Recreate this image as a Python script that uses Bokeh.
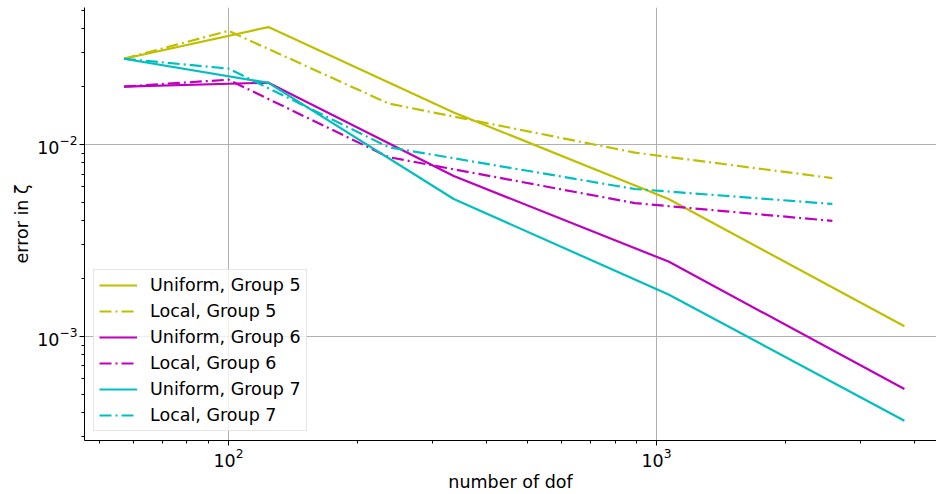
from bokeh.plotting import figure
from bokeh.models import Range1d, FixedTicker, Legend, LegendItem
from bokeh.embed import file_html
from bokeh.resources import INLINE

# ---- data ----
uniform_dof = [57, 124, 336, 1067, 3795]
local_dof = [57, 100, 237, 890, 2576]

uniform_g5 = [0.0279, 0.0408, 0.01466, 0.00519, 0.001127]
local_g5 = [0.0279, 0.0390, 0.01629, 0.00905, 0.00667]
uniform_g6 = [0.01998, 0.02094, 0.00683, 0.002449, 0.000531]
local_g6 = [0.01998, 0.0217, 0.00857, 0.00494, 0.00399]
uniform_g7 = [0.0279, 0.0209, 0.00519, 0.00165, 0.000363]
local_g7 = [0.0279, 0.0248, 0.00965, 0.00585, 0.00489]

x_major = [100, 1000]
y_major = [0.001, 0.01]

FONT = "DejaVu Sans"
FS = "17.5px"
C5, C6, C7 = "#bfbf00", "#bf00bf", "#00bfbf"
DASHDOT = "12 4 2 4"

p = figure(width=936, height=494, x_axis_type="log", y_axis_type="log",
           x_range=Range1d(46.1, 4510), y_range=Range1d(2.864e-4, 0.0516),
           output_backend="svg", toolbar_location=None,
           min_border_left=84, min_border_right=0, min_border_top=7, min_border_bottom=51)
p.outline_line_color = None
p.background_fill_color = "white"
p.border_fill_color = "white"

series = [
    ("Uniform, Group 5", uniform_dof, uniform_g5, C5, "solid"),
    ("Local, Group 5", local_dof, local_g5, C5, DASHDOT),
    ("Uniform, Group 6", uniform_dof, uniform_g6, C6, "solid"),
    ("Local, Group 6", local_dof, local_g6, C6, DASHDOT),
    ("Uniform, Group 7", uniform_dof, uniform_g7, C7, "solid"),
    ("Local, Group 7", local_dof, local_g7, C7, DASHDOT),
]
items = []
for label, xs, ys, col, dash in series:
    r = p.line(xs, ys, line_color=col, line_width=2.2, line_dash=dash)
    items.append(LegendItem(label=label, renderers=[r]))

# axes
minor_x = [10 * m for m in range(5, 10)] + [100 * m for m in range(2, 10)] + [1000 * m for m in range(2, 5)]
minor_y = [1e-4 * m for m in range(3, 10)] + [1e-3 * m for m in range(2, 10)] + [1e-2 * m for m in range(2, 6)]
p.xaxis.ticker = FixedTicker(ticks=x_major, minor_ticks=minor_x)
p.yaxis.ticker = FixedTicker(ticks=y_major, minor_ticks=minor_y)

for ax in (p.xaxis[0], p.yaxis[0]):
    ax.axis_line_color = "black"
    ax.axis_line_width = 1
    ax.major_tick_line_color = "black"
    ax.minor_tick_line_color = "black"
    ax.major_tick_out = 5
    ax.major_tick_in = 0
    ax.minor_tick_out = 3
    ax.minor_tick_in = 0
    ax.major_label_text_font = FONT
    ax.major_label_text_font_size = FS
    ax.major_label_text_color = "black"
    ax.axis_label_text_font = FONT
    ax.axis_label_text_font_size = FS
    ax.axis_label_text_font_style = "normal"
    ax.axis_label_text_color = "black"
    ax.major_label_standoff = 2
    ax.axis_label_standoff = 2

p.xaxis.axis_label = "number of dof"
p.yaxis.axis_label = "error in ζ"

p.xgrid.ticker = FixedTicker(ticks=x_major)
p.ygrid.ticker = FixedTicker(ticks=y_major)
p.grid.grid_line_color = "#b0b0b0"
p.grid.grid_line_width = 1

legend = Legend(items=items, location=(9, 9))
legend.label_text_font = FONT
legend.label_text_font_size = FS
legend.label_text_color = "black"
legend.glyph_width = 38
legend.glyph_height = 20
legend.label_height = 20
legend.label_standoff = 13
legend.spacing = 6
legend.padding = 5
legend.margin = 0
legend.border_line_color = "#cccccc"
legend.border_line_width = 1
legend.background_fill_alpha = 0.8
p.add_layout(legend)

open("out.html", "w").write(file_html(p, INLINE))
